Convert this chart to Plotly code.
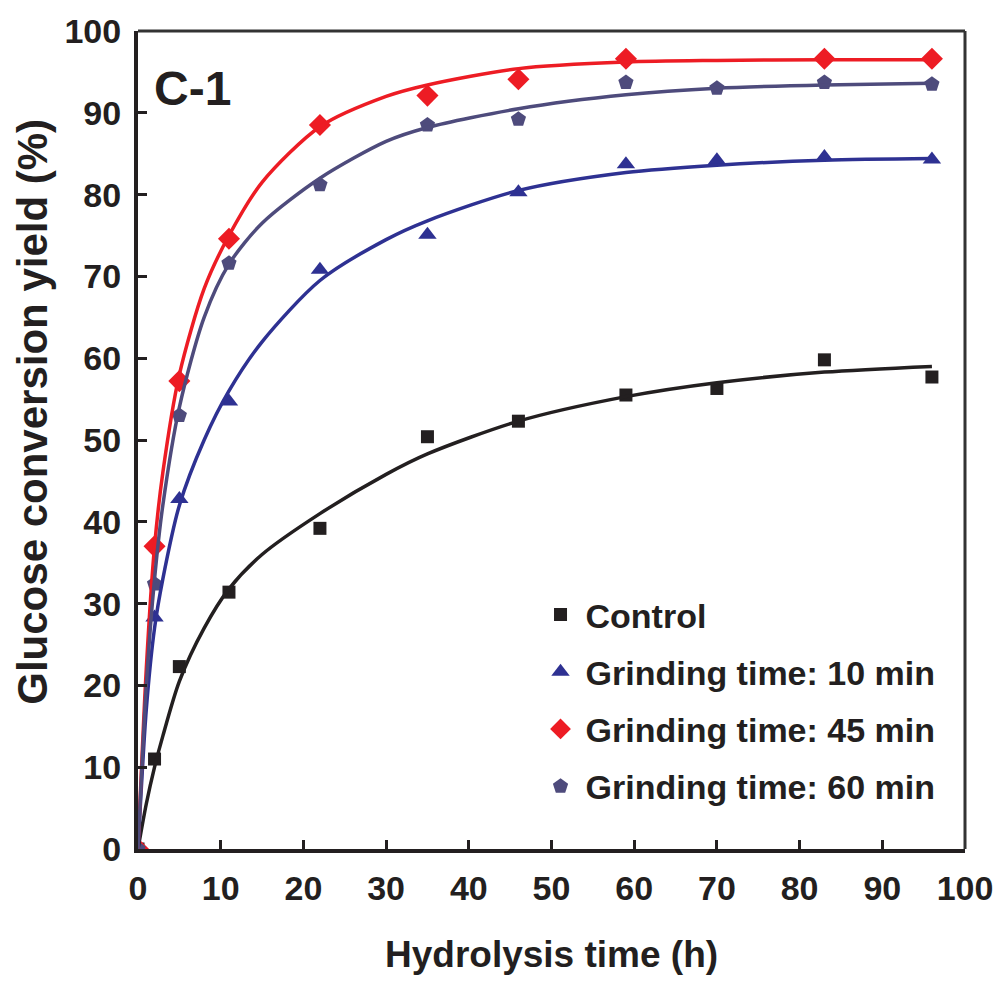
import plotly.graph_objects as go

# ---- data ----
time_h = [0, 2, 5, 11, 22, 35, 46, 59, 70, 83, 96]
control = [0, 11.0, 22.3, 31.4, 39.2, 50.4, 52.3, 55.5, 56.3, 59.8, 57.7]
grind10 = [0, 28.3, 42.8, 54.7, 70.8, 75.1, 80.3, 83.7, 84.2, 84.6, 84.3]
grind45_time = [0, 2, 5, 11, 22, 35, 46, 59, 83, 96]
grind45 = [0, 37.0, 57.2, 74.6, 88.5, 92.1, 94.1, 96.6, 96.6, 96.6]
grind60 = [0, 32.4, 53.0, 71.6, 81.2, 88.5, 89.2, 93.7, 93.0, 93.7, 93.5]

# fitted curves
fit_t = [0, 1, 2, 3, 5, 8, 11, 15, 22, 30, 35, 46, 59, 70, 83, 96]
fit_control = [0, 5.5, 10, 13.8, 20.5, 27, 31.8, 36, 41.0, 45.8, 48.3, 52.3, 55.3, 57, 58.3, 59.0]
fit_10 = [0, 17, 27, 33, 42, 50, 56, 62, 69.5, 74.5, 76.8, 80.5, 82.7, 83.6, 84.2, 84.4]
fit_45 = [0, 22, 37, 46, 58, 68.5, 75, 81.5, 88.3, 92, 93.4, 95.4, 96.2, 96.4, 96.5, 96.5]
fit_60 = [0, 20, 33, 42, 54, 65, 71.5, 76.5, 82, 86.5, 88.2, 90.5, 92.2, 93, 93.4, 93.6]

labels = ["Control", "Grinding time: 10 min", "Grinding time: 45 min", "Grinding time: 60 min"]
x_ticks = [0, 10, 20, 30, 40, 50, 60, 70, 80, 90, 100]
y_ticks = [0, 10, 20, 30, 40, 50, 60, 70, 80, 90, 100]

BLACK = "#231f20"
BLUE = "#2e3192"
RED = "#ed1c24"
GRAY = "#4e4b7c"
FONT = "Liberation Sans, Arial, Helvetica, sans-serif"

fig = go.Figure()

series = [
    (time_h, control, fit_control, BLACK, "square", 13),
    (time_h, grind10, fit_10, BLUE, "triangle-up", 16),
    (grind45_time, grind45, fit_45, RED, "diamond", 17),
    (time_h, grind60, fit_60, GRAY, "pentagon", 16),
]

for i, (tx, ty, fy, col, sym, sz) in enumerate(series):
    fig.add_trace(go.Scatter(
        x=tx, y=ty, mode="markers", name=labels[i],
        legendgroup=f"g{i}",
        marker=dict(symbol=sym, size=sz, color=col, line=dict(width=0)),
    ))
for i, (tx, ty, fy, col, sym, sz) in enumerate(series):
    fig.add_trace(go.Scatter(
        x=fit_t, y=fy, mode="lines", showlegend=False,
        line=dict(color=col, width=3.5, shape="spline", smoothing=0.8),
        hoverinfo="skip",
    ))

axis_common = dict(
    showgrid=False, zeroline=False, showline=True, linecolor=BLACK, linewidth=4,
    ticks="inside", ticklen=9, tickwidth=3, tickcolor=BLACK,
    tickfont=dict(family=FONT, size=34, color=BLACK, weight="bold"),
    mirror=False,
)

fig.update_layout(
    width=1005, height=983,
    margin=dict(l=138, r=39, t=28, b=134),
    paper_bgcolor="white", plot_bgcolor="white",
    xaxis=dict(range=[0, 100], tickvals=x_ticks, ticklabelstandoff=6, **axis_common),
    yaxis=dict(range=[0, 100], tickvals=y_ticks, ticklabelstandoff=6, **axis_common),
    showlegend=True,
    legend=dict(
        x=(536 - 138) / 828, y=(849 - 585) / 821, xanchor="left", yanchor="top",
        bgcolor="rgba(0,0,0,0)", borderwidth=0,
        font=dict(family=FONT, size=34, color=BLACK, weight="bold"),
        tracegroupgap=10, traceorder="grouped", itemwidth=40,
    ),
    shapes=[
        dict(type="line", xref="paper", yref="paper", x0=0, x1=1, y0=1, y1=1,
             line=dict(color="#333333", width=3)),
        dict(type="line", xref="paper", yref="paper", x0=1, x1=1, y0=0, y1=1,
             line=dict(color="#333333", width=3)),
    ],
    annotations=[
        dict(text="Hydrolysis time (h)", xref="paper", yref="paper",
             x=0.5, y=(849 - 955) / 821, xanchor="center", yanchor="middle",
             showarrow=False, font=dict(family=FONT, size=37, color=BLACK, weight="bold")),
        dict(text="Glucose conversion yield (%)", xref="paper", yref="paper",
             x=(32 - 138) / 828, y=(849 - 410) / 821, xanchor="center", yanchor="middle",
             textangle=-90, showarrow=False,
             font=dict(family=FONT, size=42, color=BLACK, weight="bold")),
        dict(text="C-1", xref="paper", yref="paper",
             x=(193 - 138) / 828, y=(849 - 86) / 821, xanchor="center", yanchor="middle",
             showarrow=False, font=dict(family=FONT, size=48, color=BLACK, weight="bold")),
    ],
)

fig.write_html("out.html")
